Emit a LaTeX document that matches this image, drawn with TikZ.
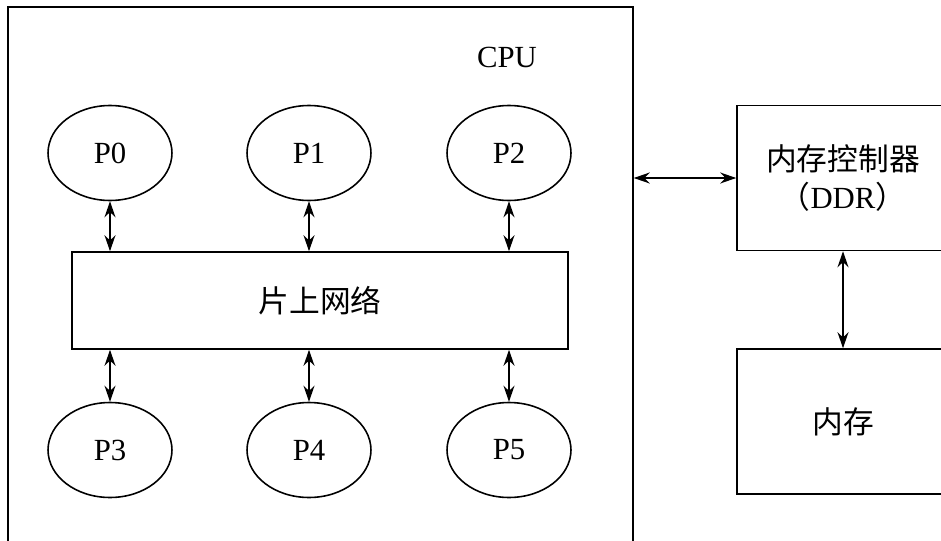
\documentclass[tikz,border=0pt]{standalone}
\usepackage{fontspec}
\setmainfont{Liberation Serif}
\newfontfamily\cjk{Noto Sans CJK SC}
\usetikzlibrary{shapes.geometric,arrows.meta,positioning}

\begin{document}
\begin{tikzpicture}[
  x=0.02cm, y=-0.02cm,
  font=\fontsize{17.5}{21.5}\selectfont,
  line width=0.9pt,
  box/.style={draw, rectangle, align=center, inner sep=0pt},
  core/.style={draw, ellipse, minimum width=2.48cm, minimum height=1.9cm, inner sep=0pt},
  >={Stealth[length=3.2mm,width=2.2mm]}
]
  \useasboundingbox (0,0) rectangle (941,541);
  \clip (0,0) rectangle (941,541);

  % CPU frame
  \node[box, minimum width=12.5cm, minimum height=11.3cm] (cpu) at (320.5,289.5) {};
  \node (cpulbl) at (507,57) {CPU};

  % cores above and below the network
  \node[core] (p0) at (110,153) {P0};
  \node[core] (p1) at (309,153) {P1};
  \node[core] (p2) at (509,153) {P2};
  \node[core] (p3) at (110,450) {P3};
  \node[core] (p4) at (309,450) {P4};
  \node[core] (p5) at (509,450) {P5};

  % on-chip network
  \node[box, minimum width=9.92cm, minimum height=1.94cm] (noc) at (320,300.5) {\cjk 片上网络};

  % memory side
  \node[box, minimum width=4.24cm, minimum height=2.9cm] (ctrl) at (843,178) {{\cjk 内存控制器}\\{\cjk （}DDR{\cjk ）}};
  \node[box, minimum width=4.24cm, minimum height=2.9cm] (mem) at (843,421.5) {\cjk 内存};

  \foreach \i/\j in {0/3,1/4,2/5} {
    \draw[<->] (p\i) -- (p\i |- noc.north);
    \draw[<->] (noc.south -| p\j) -- (p\j);
  }
  \draw[<->] (cpu.east |- ctrl.west) -- (ctrl.west);
  \draw[<->] (ctrl) -- (mem);
\end{tikzpicture}
\end{document}
